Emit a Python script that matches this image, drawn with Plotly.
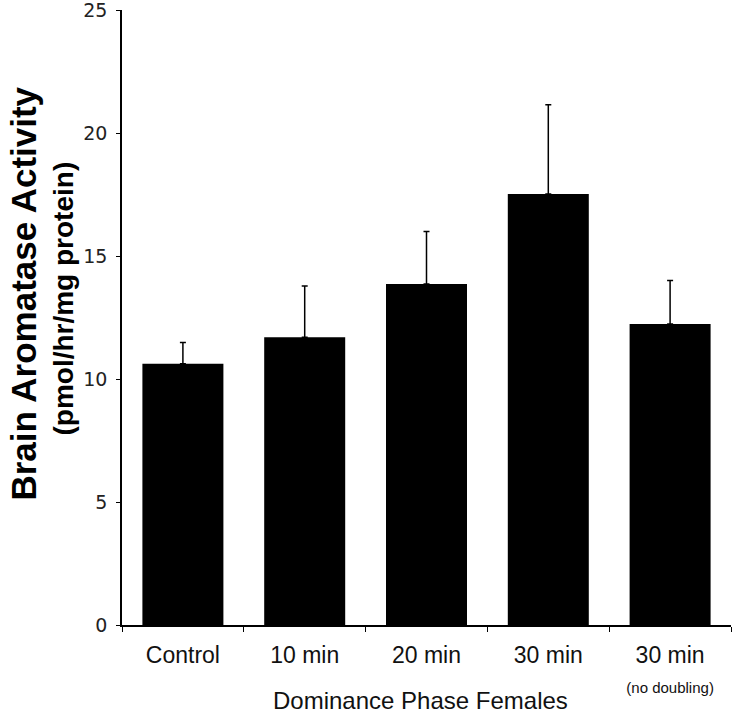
import plotly.graph_objects as go

categories = ["Control", "10 min", "20 min", "30 min", "30 min<br><span style='font-size:15px'>(no doubling)</span>"]
means = [10.62, 11.70, 13.86, 17.52, 12.24]
errors = [0.86, 2.08, 2.14, 3.63, 1.76]
y_ticks = [0, 5, 10, 15, 20, 25]

L, R, T, B = 121.5, 7, 10, 96
W, H = 738, 721
pw = W - L - R
ph = H - T - B

fig = go.Figure()
fig.add_trace(go.Bar(
    x=categories, y=means,
    marker=dict(color="black", line=dict(width=0)),
    error_y=dict(type="data", array=errors, arrayminus=[0]*len(errors),
                 symmetric=False, color="black", thickness=1.5, width=3),
))

fig.update_layout(
    width=W, height=H,
    margin=dict(l=L, r=R, t=T, b=B, autoexpand=False),
    paper_bgcolor="white", plot_bgcolor="white",
    bargap=0.335,
    showlegend=False,
    xaxis=dict(
        automargin=False,
        showline=True, linecolor="black", linewidth=1.5,
        ticks="outside", tickson="boundaries", ticklen=5, tickcolor="black", tickwidth=1,
        ticklabelstandoff=9,
        tickfont=dict(family="Liberation Sans, Arial, sans-serif", size=23, color="#111"),
        showgrid=False,
    ),
    yaxis=dict(
        automargin=False,
        range=[0, 25], tickvals=y_ticks,
        showline=True, linecolor="black", linewidth=1.5,
        ticks="outside", ticklen=4, tickcolor="black", tickwidth=1,
        ticklabelstandoff=5,
        ticklabeloverflow="allow",
        tickfont=dict(family="DejaVu Sans, Verdana, sans-serif", size=19, color="#222"),
        showgrid=False, zeroline=False,
    ),
)

# x-axis title
fig.add_annotation(
    text="Dominance Phase Females",
    xref="paper", yref="paper", x=0.5 - 6/pw, y=-(700 - (H - B)) / ph,
    xanchor="center", yanchor="middle", showarrow=False,
    font=dict(family="Liberation Sans, Arial, sans-serif", size=24, color="#111"),
)
# y-axis titles
fig.add_annotation(
    text="<b>Brain Aromatase Activity</b>", textangle=-90,
    xref="paper", yref="paper", x=(22 - L) / pw, y=(H - B - 294) / ph,
    xanchor="center", yanchor="middle", showarrow=False,
    font=dict(family="Liberation Sans, Arial, sans-serif", size=35, color="black"),
)
fig.add_annotation(
    text="<b>(pmol/hr/mg protein)</b>", textangle=-90,
    xref="paper", yref="paper", x=(62 - L) / pw, y=(H - B - 299) / ph,
    xanchor="center", yanchor="middle", showarrow=False,
    font=dict(family="Liberation Sans, Arial, sans-serif", size=28, color="black"),
)

fig.write_html("out.html", config={"displayModeBar": False},
               post_script="document.body.style.margin='0';")
